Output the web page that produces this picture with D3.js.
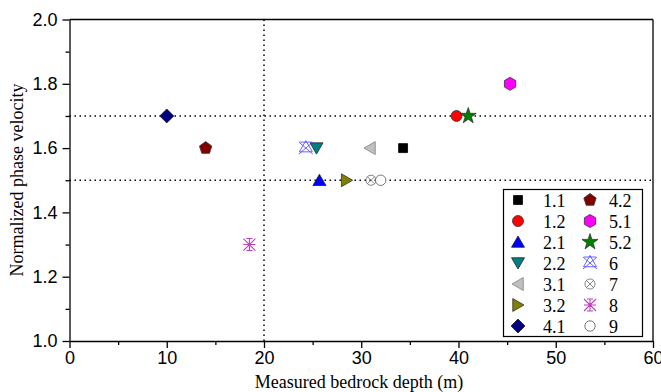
<!DOCTYPE html>
<html>
<head>
<meta charset="utf-8">
<script src="https://cdn.jsdelivr.net/npm/d3@7"></script>
<style>
  body { margin: 0; background: #fff; }
  svg { font-family: "Liberation Serif", "Times New Roman", serif; }
  .tick text { font-size: 18px; fill: #000; }
  .label { font-size: 18px; fill: #000; }
  .legend text { font-size: 18px; fill: #000; }
</style>
</head>
<body>
<svg width="661" height="392"></svg>
<script>
// series
const seriesNames = ['1.1', '1.2', '2.1', '2.2', '3.1', '3.2', '4.1', '4.2', '5.1', '5.2', '6', '7', '8', '9'];
const depthValues = [34.3, 39.8, 25.7, 25.4, 30.9, 28.5, 10, 14, 45.3, 41, 24.3, 31, 18.5, 32];
const velocityValues = [1.6, 1.7, 1.5, 1.6, 1.6, 1.5, 1.7, 1.6, 1.8, 1.7, 1.6, 1.5, 1.3, 1.5];
const markerShapes = ['square', 'circle', 'triUp', 'triDown', 'triLeft', 'triRight', 'diamond', 'pentagon',
  'hexagon', 'star', 'crossTri', 'circleX', 'asterisk', 'openCircle'];
const markerFills = ['#000', '#ff0000', '#0000ff', '#008080', '#c0c0c0', '#808000', '#000080', '#800000',
  '#ff00ff', '#008000', 'none', 'none', 'none', '#fff'];
const markerStrokes = ['#000', '#333', '#222', '#222', '#808080', '#333', '#222', '#333',
  '#333', '#333', '#4040ff', '#666', '#c040c0', '#555'];

// axis ticks
const xTicks = [0, 10, 20, 30, 40, 50, 60];
const xMinorTicks = [5, 15, 25, 35, 45, 55];
const yTicks = [1.0, 1.2, 1.4, 1.6, 1.8, 2.0];
const yMinorTicks = [1.1, 1.3, 1.5, 1.7, 1.9];
const refX = [20];
const refY = [1.5, 1.7];

const margins = { left: 69.5, top: 19.5 };
const svg = d3.select('svg');
const innerWidth = 653 - margins.left;
const innerHeight = 341 - margins.top;

const x = d3.scaleLinear().domain([0, 60]).range([0, innerWidth]);
const y = d3.scaleLinear().domain([1.0, 2.0]).range([innerHeight, 0]);

const g = svg.append('g').attr('transform', `translate(${margins.left}, ${margins.top})`);

// reference dotted lines
g.selectAll('line.refx').data(refX).enter().append('line')
  .attr('x1', d => x(d)).attr('x2', d => x(d))
  .attr('y1', 0).attr('y2', innerHeight)
  .attr('stroke', '#000').attr('stroke-width', 1.5).attr('stroke-dasharray', '1.5 3.5');
g.selectAll('line.refy').data(refY).enter().append('line')
  .attr('x1', 0).attr('x2', innerWidth)
  .attr('y1', d => y(d)).attr('y2', d => y(d))
  .attr('stroke', '#000').attr('stroke-width', 1.5).attr('stroke-dasharray', '1.5 3.5');

// axes
const xAxis = d3.axisBottom(x).tickValues(xTicks).tickFormat(d3.format('d')).tickSizeInner(7).tickSizeOuter(0).tickPadding(3);
g.append('g').attr('transform', `translate(0, ${innerHeight})`).call(xAxis);
const xMinor = d3.axisBottom(x).tickValues(xMinorTicks).tickFormat('').tickSizeInner(4).tickSizeOuter(0);
g.append('g').attr('transform', `translate(0, ${innerHeight})`).call(xMinor).select('.domain').remove();

const yAxis = d3.axisLeft(y).tickValues(yTicks).tickFormat(d3.format('.1f')).tickSizeInner(7).tickSizeOuter(0).tickPadding(5);
g.append('g').call(yAxis);
const yMinor = d3.axisLeft(y).tickValues(yMinorTicks).tickFormat('').tickSizeInner(4).tickSizeOuter(0);
g.append('g').call(yMinor).select('.domain').remove();

g.selectAll('.domain, .tick line').attr('stroke', '#000').attr('stroke-width', 1.3);

// top and right frame
g.append('line').attr('x1', 0).attr('x2', innerWidth).attr('y1', 0).attr('y2', 0)
  .attr('stroke', '#000').attr('stroke-width', 1.3);
g.append('line').attr('x1', innerWidth).attr('x2', innerWidth).attr('y1', 0).attr('y2', innerHeight)
  .attr('stroke', '#000').attr('stroke-width', 1.3);

// axis labels
svg.append('text').attr('class', 'label')
  .attr('x', 359).attr('y', 388)
  .style('text-anchor', 'middle').text('Measured bedrock depth (m)');
svg.append('text').attr('class', 'label')
  .attr('transform', `translate(23, 180) rotate(-90)`)
  .style('text-anchor', 'middle').text('Normalized phase velocity');

// marker drawing
function poly(n, r, rot) {
  const pts = d3.range(n).map(i => {
    const a = rot + i * 2 * Math.PI / n;
    return [r * Math.sin(a), -r * Math.cos(a)];
  });
  return 'M' + pts.map(p => p.join(',')).join('L') + 'Z';
}

function drawMarker(sel, shape, fill, stroke) {
  let sw = 0.8;
  let p;
  switch (shape) {
    case 'square': p = sel.append('path').attr('d', d3.symbol(d3.symbolSquare, 80)()); break;
    case 'circle': p = sel.append('path').attr('d', d3.symbol(d3.symbolCircle, 95)()); break;
    case 'openCircle': p = sel.append('path').attr('d', d3.symbol(d3.symbolCircle, 85)()); break;
    case 'triUp': p = sel.append('path').attr('d', poly(3, 7.5, 0)).attr('transform', 'translate(0,1.5)'); break;
    case 'triDown': p = sel.append('path').attr('d', poly(3, 7.5, Math.PI)).attr('transform', 'translate(0,-1.5)'); break;
    case 'triLeft': p = sel.append('path').attr('d', poly(3, 7.5, -Math.PI / 2)).attr('transform', 'translate(1.5,0)'); break;
    case 'triRight': p = sel.append('path').attr('d', poly(3, 7.5, Math.PI / 2)).attr('transform', 'translate(-1.5,0)'); break;
    case 'diamond': p = sel.append('path').attr('d', poly(4, 7, 0)); break;
    case 'pentagon': p = sel.append('path').attr('d', poly(5, 6.5, 0)); break;
    case 'hexagon': p = sel.append('path').attr('d', poly(6, 6.5, 0)); break;
    case 'star': p = sel.append('path').attr('d', d3.symbol(d3.symbolStar, 80)()); break;
    case 'crossTri':
      p = sel.append('path').attr('d', poly(3, 7.5, 0) + 'M-7,-6L7,6M7,-6L-7,6M-6,-6L6,-6');
      break;
    case 'circleX':
      p = sel.append('path').attr('d', d3.symbol(d3.symbolCircle, 80)() + 'M-3.5,-3.5L3.5,3.5M3.5,-3.5L-3.5,3.5');
      break;
    case 'asterisk':
      p = sel.append('path').attr('d', 'M-6,-6L6,6M6,-6L-6,6M0,-6L0,6M-6,0L6,0M-3,-6L3,-6M-3,6L3,6');
      sw = 1.1;
      break;
  }
  p.attr('fill', fill).attr('stroke', stroke).attr('stroke-width', sw);
}

// points
const points = seriesNames.map((name, i) => ({
  name: name, x: depthValues[i], y: velocityValues[i],
  shape: markerShapes[i], fill: markerFills[i], stroke: markerStrokes[i]
}));

const dataContainer = g.append('g').attr('class', 'dataContainer');
points.forEach(d => {
  const m = dataContainer.append('g').attr('transform', `translate(${x(d.x)}, ${y(d.y)})`);
  drawMarker(m, d.shape, d.fill, d.stroke);
});

// legend
const legend = svg.append('g').attr('class', 'legend');
legend.append('rect').attr('x', 503.5).attr('y', 189.5).attr('width', 139).attr('height', 147)
  .attr('fill', '#fff').attr('stroke', '#000').attr('stroke-width', 1.2);
points.forEach((d, i) => {
  const col = Math.floor(i / 7), row = i % 7;
  const lx = 518 + col * 72, ly = 200 + row * 21;
  const m = legend.append('g').attr('transform', `translate(${lx}, ${ly})`);
  drawMarker(m, d.shape, d.fill, d.stroke);
  legend.append('text').attr('x', lx + (col === 0 ? 25 : 19)).attr('y', ly + 6.5).text(d.name);
});
</script>
</body>
</html>
